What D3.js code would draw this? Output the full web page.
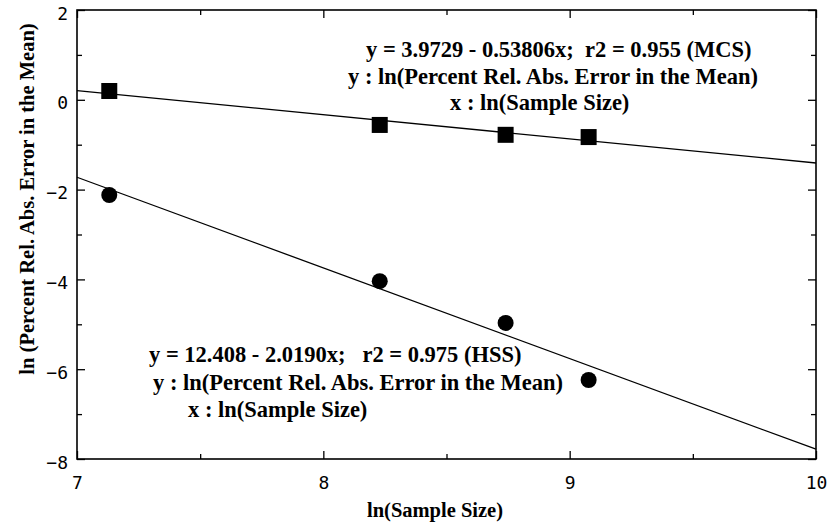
<!DOCTYPE html>
<html>
<head>
<meta charset="utf-8">
<title>ln error vs ln sample size</title>
<script src="https://d3js.org/d3.v7.min.js"></script>
<style>
  body { margin: 0; background: #fff; }
  .tick text { font-family: "DejaVu Sans Mono", monospace; font-size: 18px; fill: #000; }
  .title { font-family: "Liberation Serif", serif; font-weight: bold; font-size: 20.5px; fill: #000; }
  .note { font-family: "Liberation Serif", serif; font-weight: bold; font-size: 22.5px; fill: #000; white-space: pre; }
</style>
</head>
<body>
<div id="chart"></div>
<script>
// ln(sample size) for the four runs
const lnN = [7.131, 8.229, 8.740, 9.077];
// ln(percent rel. abs. error in the mean)
const mcs = [0.196, -0.56, -0.78, -0.83];
const hss = [-2.12, -4.04, -4.97, -6.24];
// fitted lines: [intercept, slope]
const mcsFit = [3.9729, -0.53806];
const hssFit = [12.408, -2.0190];

const xTicks = [7, 8, 9, 10];
const xMinor = [7.5, 8.5, 9.5];
const yTicks = [2, 0, -2, -4, -6, -8];
const yMinor = [1, -1, -3, -5, -7];

const mcsNotes = [
  ["y = 3.9729 - 0.53806x;  r2 = 0.955 (MCS)", 366, 57],
  ["y : ln(Percent Rel. Abs. Error in the Mean)", 348, 84],
  ["x : ln(Sample Size)", 450, 110]
];
const hssNotes = [
  ["y = 12.408 - 2.0190x;   r2 = 0.975 (HSS)", 149, 362],
  ["y : ln(Percent Rel. Abs. Error in the Mean)", 153, 390],
  ["x : ln(Sample Size)", 188, 417]
];

const W = 832, H = 526;
const pL = 77, pR = 816, pT = 10, pB = 459;

const svg = d3.select("#chart").append("svg")
  .attr("width", W).attr("height", H);

const x = d3.scaleLinear().domain([7, 10]).range([pL, pR]);
const y = d3.scaleLinear().domain([-8, 2]).range([pB, pT]);

// axes, ticks pointing inward
svg.append("g").attr("transform", `translate(0,${pB})`)
  .call(d3.axisBottom(x).tickValues(xTicks).tickFormat(d3.format("d")).tickSize(-8).tickSizeOuter(0).tickPadding(17));
svg.append("g").attr("transform", `translate(0,${pB})`)
  .call(d3.axisBottom(x).tickValues(xMinor).tickFormat("").tickSize(-5).tickSizeOuter(0));
svg.append("g").attr("transform", `translate(0,${pT})`)
  .call(d3.axisTop(x).tickValues(xTicks).tickFormat("").tickSize(-8).tickSizeOuter(0));
svg.append("g").attr("transform", `translate(0,${pT})`)
  .call(d3.axisTop(x).tickValues(xMinor).tickFormat("").tickSize(-5).tickSizeOuter(0));

svg.append("g").attr("transform", `translate(${pL},0)`)
  .call(d3.axisLeft(y).tickValues(yTicks).tickFormat(d3.format("d")).tickSize(-8).tickSizeOuter(0).tickPadding(9))
  .selectAll("text").attr("dy", "0.5em");
svg.append("g").attr("transform", `translate(${pL},0)`)
  .call(d3.axisLeft(y).tickValues(yMinor).tickFormat("").tickSize(-5).tickSizeOuter(0));
svg.append("g").attr("transform", `translate(${pR},0)`)
  .call(d3.axisRight(y).tickValues(yTicks).tickFormat("").tickSize(-8).tickSizeOuter(0));
svg.append("g").attr("transform", `translate(${pR},0)`)
  .call(d3.axisRight(y).tickValues(yMinor).tickFormat("").tickSize(-5).tickSizeOuter(0));

svg.selectAll(".domain").remove();
svg.selectAll(".tick line").attr("stroke", "#000").attr("stroke-width", 1.3);

svg.append("rect")
  .attr("x", pL).attr("y", pT)
  .attr("width", pR - pL).attr("height", pB - pT)
  .attr("fill", "none").attr("stroke", "#000").attr("stroke-width", 1.6);

// regression lines across the full x range
const fitLine = f => d3.line().x(d => x(d)).y(d => y(f[0] + f[1] * d));
const xs = x.domain();
svg.append("path").attr("d", fitLine(mcsFit)(xs))
  .attr("fill", "none").attr("stroke", "#000").attr("stroke-width", 1.3);
svg.append("path").attr("d", fitLine(hssFit)(xs))
  .attr("fill", "none").attr("stroke", "#000").attr("stroke-width", 1.3);

// markers
svg.selectAll(".sq").data(lnN).enter().append("rect")
  .attr("class", "sq")
  .attr("x", d => x(d) - 8)
  .attr("y", (d, i) => y(mcs[i]) - 8)
  .attr("width", 16).attr("height", 16)
  .attr("fill", "#000");
svg.selectAll(".dot").data(lnN).enter().append("circle")
  .attr("class", "dot")
  .attr("cx", d => x(d))
  .attr("cy", (d, i) => y(hss[i]))
  .attr("r", 8)
  .attr("fill", "#000");

// annotations
svg.selectAll(".note").data(mcsNotes.concat(hssNotes)).enter().append("text")
  .attr("class", "note")
  .attr("x", d => d[1]).attr("y", d => d[2])
  .text(d => d[0]);

// axis titles
svg.append("text").attr("class", "title")
  .attr("x", 435).attr("y", 517).attr("text-anchor", "middle")
  .text("ln(Sample Size)");
svg.append("text").attr("class", "title")
  .attr("transform", "translate(34,199) rotate(-90)")
  .attr("text-anchor", "middle")
  .text("ln (Percent Rel. Abs. Error in the Mean)");
</script>
</body>
</html>
